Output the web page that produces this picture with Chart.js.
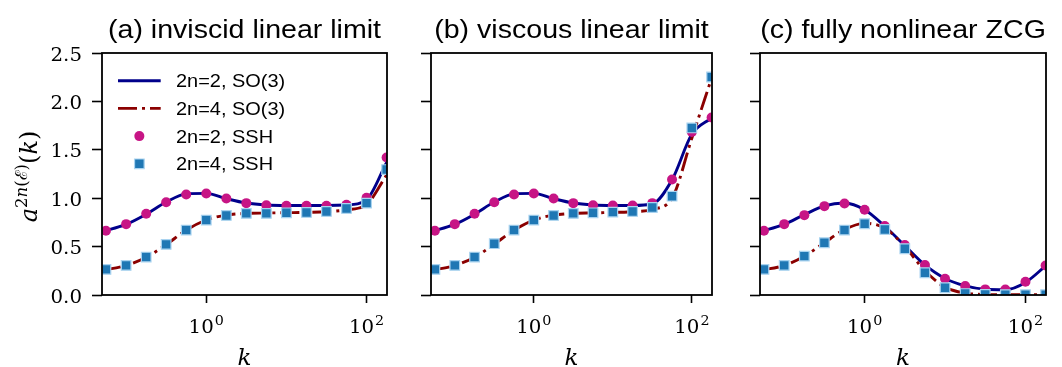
<!DOCTYPE html>
<html>
<head>
<meta charset="utf-8">
<script src="https://cdn.jsdelivr.net/npm/chart.js@4.4.1/dist/chart.umd.min.js"></script>
<style>
  html, body { margin: 0; padding: 0; background: #fff; }
  #wrap { position: relative; width: 1062px; height: 367px; overflow: hidden; }
  canvas { position: absolute; top: 0; }
</style>
</head>
<body>
<div id="wrap">
  <canvas id="panel-a" width="395" height="367" style="left:0px"></canvas>
  <canvas id="panel-b" width="325" height="367" style="left:395px"></canvas>
  <canvas id="panel-c" width="338" height="367" style="left:724px"></canvas>
</div>
<script>
// wavenumbers: SO(3) curves and SSH samples
const kLine = [0.05, 0.1, 0.178, 0.316, 0.562, 1, 1.78, 3.16, 5.62, 10, 17.8, 31.6, 56.2, 100, 178];
const kPoints = [0.056, 0.1, 0.178, 0.316, 0.562, 1, 1.78, 3.16, 5.62, 10, 17.8, 31.6, 56.2, 100, 178];

const seriesLabels = ['2n=2, SO(3)', '2n=4, SO(3)', '2n=2, SSH', '2n=4, SSH'];
const panelTitles = ['(a) inviscid linear limit', '(b) viscous linear limit', '(c) fully nonlinear ZCG'];
const yTicks = [0, 0.5, 1.0, 1.5, 2.0, 2.5];
const xTicks = [1, 100];

// (a) inviscid linear limit
const invLine2 = [0.655, 0.73, 0.835, 0.96, 1.045, 1.05, 0.995, 0.95, 0.93, 0.925, 0.925, 0.925, 0.93, 0.985, 1.37];
const invLine4 = [0.255, 0.305, 0.39, 0.52, 0.67, 0.775, 0.825, 0.843, 0.847, 0.85, 0.853, 0.86, 0.88, 0.935, 1.24];
const invSsh2 = [0.664, 0.732, 0.839, 0.959, 1.039, 1.049, 0.997, 0.949, 0.928, 0.922, 0.922, 0.922, 0.932, 1.004, 1.42];
const invSsh4 = [0.265, 0.306, 0.392, 0.523, 0.671, 0.774, 0.822, 0.843, 0.843, 0.849, 0.853, 0.863, 0.894, 0.949, 1.296];

// (b) viscous linear limit
const visLine2 = [0.655, 0.73, 0.835, 0.96, 1.045, 1.05, 0.995, 0.95, 0.93, 0.925, 0.925, 0.94, 1.19, 1.66, 1.83];
const visLine4 = [0.255, 0.305, 0.39, 0.525, 0.67, 0.775, 0.825, 0.843, 0.848, 0.853, 0.86, 0.885, 1.0, 1.62, 2.24];
const visSsh2 = [0.664, 0.732, 0.839, 0.959, 1.039, 1.049, 0.997, 0.949, 0.928, 0.925, 0.925, 0.949, 1.193, 1.685, 1.833];
const visSsh4 = [0.265, 0.306, 0.392, 0.530, 0.671, 0.774, 0.822, 0.843, 0.849, 0.856, 0.863, 0.904, 1.021, 1.726, 2.252];

// (c) fully nonlinear ZCG
const zcgLine2 = [0.655, 0.73, 0.83, 0.92, 0.95, 0.88, 0.71, 0.51, 0.31, 0.17, 0.095, 0.06, 0.055, 0.13, 0.3];
const zcgLine4 = [0.255, 0.305, 0.4, 0.54, 0.675, 0.74, 0.69, 0.5, 0.25, 0.08, 0.02, 0.005, 0.002, 0.002, 0.002];
const zcgSsh2 = [0.664, 0.732, 0.825, 0.918, 0.946, 0.880, 0.712, 0.516, 0.31, 0.168, 0.093, 0.058, 0.056, 0.136, 0.305];
const zcgSsh4 = [0.265, 0.306, 0.402, 0.540, 0.671, 0.736, 0.677, 0.478, 0.23, 0.075, 0.015, 0.006, 0.004, 0.003, 0.003];

const SANS = '"Liberation Sans", Arial, sans-serif';
const SERIF = '"DejaVu Serif", serif';

function pairs(xs, ys) {
    return xs.map((x, i) => ({ x: x, y: ys[i] }));
}

function buildDatasets(line2, line4, ssh2, ssh4) {
    return [
        {
            label: seriesLabels[0], data: pairs(kLine, line2), showLine: true,
            borderColor: '#00008b', borderWidth: 2.9, pointRadius: 0,
            cubicInterpolationMode: 'monotone', order: 3, clip: 0
        },
        {
            label: seriesLabels[1], data: pairs(kLine, line4), showLine: true,
            borderColor: '#8b0000', borderWidth: 2.9, borderDash: [19, 5, 3, 5], pointRadius: 0,
            cubicInterpolationMode: 'monotone', order: 2, clip: 0
        },
        {
            label: seriesLabels[2], data: pairs(kPoints, ssh2), showLine: false,
            pointStyle: 'circle', pointRadius: 5, pointBorderWidth: 0,
            backgroundColor: '#c71585', borderColor: '#c71585', order: 1, clip: 0
        },
        {
            label: seriesLabels[3], data: pairs(kPoints, ssh4), showLine: false,
            pointStyle: 'rect', pointRadius: 6.8, pointBorderWidth: 1.2,
            backgroundColor: '#1f77b4', borderColor: '#a9d3f0', order: 0, clip: 0
        }
    ];
}

// text stretched horizontally around its anchor
function drawText(ctx, text, x, y, font, sx, align) {
    ctx.save();
    ctx.translate(x, y);
    ctx.scale(sx, 1);
    ctx.font = font;
    ctx.textAlign = align;
    ctx.textBaseline = 'alphabetic';
    ctx.fillStyle = '#000';
    ctx.fillText(text, 0, 0);
    ctx.restore();
}

const framePlugin = {
    id: 'frame',
    afterDatasetsDraw(chart) {
        const { ctx, chartArea: a } = chart;
        ctx.save();
        ctx.strokeStyle = '#000';
        ctx.lineWidth = 1.8;
        ctx.strokeRect(a.left, a.top, a.right - a.left, a.bottom - a.top);
        ctx.restore();
    }
};

const panelTitlePlugin = {
    id: 'panelTitle',
    afterDraw(chart, args, opts) {
        const a = chart.chartArea;
        drawText(chart.ctx, opts.text, (a.left + a.right) / 2, 38, '25.5px ' + SANS, 1.12, 'center');
    }
};

// 10^n labels with a raised exponent
const powerTicksPlugin = {
    id: 'powerTicks',
    afterDraw(chart) {
        const ctx = chart.ctx;
        const scale = chart.scales.x;
        const sx = 1.1;
        ctx.save();
        scale.ticks.forEach((t) => {
            const px = scale.getPixelForValue(t.value);
            const exp = String(Math.round(Math.log10(t.value)));
            ctx.font = '18px ' + SERIF;
            const wb = ctx.measureText('10').width * sx;
            ctx.font = '13px ' + SERIF;
            const we = ctx.measureText(exp).width * sx;
            const x0 = px - (wb + we + 1) / 2;
            drawText(ctx, '10', x0, 332.5, '18px ' + SERIF, sx, 'left');
            drawText(ctx, exp, x0 + wb + 1, 325, '13px ' + SERIF, sx, 'left');
        });
        ctx.restore();
    }
};

// plain decimal labels on the value axis
const valueTicksPlugin = {
    id: 'valueTicks',
    afterDraw(chart) {
        const scale = chart.scales.y;
        scale.ticks.forEach((t) => {
            const py = scale.getPixelForValue(t.value);
            drawText(chart.ctx, t.value.toFixed(1), 82, py + 7.5, '18px ' + SERIF, 1.1, 'right');
        });
    }
};

const yTitlePlugin = {
    id: 'yTitle',
    afterDraw(chart) {
        const ctx = chart.ctx;
        const a = chart.chartArea;
        const big = 24, small = 16.5;
        const parts = [
            { t: 'a', it: true },
            { t: '2', sup: true }, { t: 'n', it: true, sup: true }, { t: '(', sup: true },
            { t: 'ℰ', sup: true }, { t: ')', sup: true },
            { t: '(' }, { t: 'k', it: true }, { t: ')' }
        ];
        const fontOf = (p) => (p.it ? 'italic ' : '') + (p.sup ? small : big) + 'px ' + SERIF;
        ctx.save();
        let total = 0;
        parts.forEach((p) => {
            ctx.font = fontOf(p);
            p.w = ctx.measureText(p.t).width;
            total += p.w;
        });
        ctx.translate(37, (a.top + a.bottom) / 2 + 2.5);
        ctx.rotate(-Math.PI / 2);
        ctx.fillStyle = '#000';
        ctx.textAlign = 'left';
        ctx.textBaseline = 'alphabetic';
        let x = -total / 2;
        parts.forEach((p) => {
            ctx.font = fontOf(p);
            ctx.fillText(p.t, x, p.sup ? -10.5 : 0);
            x += p.w;
        });
        ctx.restore();
    }
};

const legendPlugin = {
    id: 'seriesLegend',
    afterDraw(chart) {
        const ctx = chart.ctx;
        const sampleLeft = 118, sampleRight = 160.7, textX = 176;
        const rowTop = 80.7, rowStep = 27.7;
        chart.data.datasets.forEach((ds, i) => {
            const y = rowTop + i * rowStep;
            ctx.save();
            if (ds.showLine) {
                ctx.strokeStyle = ds.borderColor;
                ctx.lineWidth = ds.borderWidth;
                ctx.setLineDash(ds.borderDash || []);
                ctx.beginPath();
                ctx.moveTo(sampleLeft, y);
                ctx.lineTo(sampleRight, y);
                ctx.stroke();
            } else {
                ctx.fillStyle = ds.backgroundColor;
                ctx.strokeStyle = ds.borderColor;
                ctx.lineWidth = ds.pointBorderWidth;
                Chart.helpers.drawPoint(ctx, {
                    pointStyle: ds.pointStyle, radius: ds.pointRadius,
                    rotation: 0, borderWidth: ds.pointBorderWidth
                }, (sampleLeft + sampleRight) / 2, y);
            }
            ctx.restore();
            drawText(ctx, ds.label, textX, y + 6.4, '17.5px ' + SANS, 1.14, 'left');
        });
    }
};

function makePanel(canvasId, title, datasets, yAxisWidth, rightPad, extraPlugins) {
    const ctxt = document.getElementById(canvasId).getContext('2d');
    return new Chart(ctxt, {
        type: 'scatter',
        data: { datasets: datasets },
        options: {
            responsive: false,
            animation: false,
            devicePixelRatio: 1,
            layout: { padding: { top: 53, right: rightPad, bottom: 0, left: 0 } },
            plugins: {
                legend: { display: false },
                tooltip: { enabled: false },
                panelTitle: { text: title }
            },
            scales: {
                x: {
                    type: 'logarithmic',
                    min: 0.05,
                    max: 180,
                    afterBuildTicks: (s) => { s.ticks = xTicks.map((v) => ({ value: v })); },
                    afterFit: (s) => { s.height = 72; },
                    ticks: { display: false },
                    grid: { drawOnChartArea: false, drawTicks: true, tickLength: 8, tickWidth: 1.6, tickColor: '#000' },
                    border: { display: false },
                    title: {
                        display: true, text: 'k', color: '#000',
                        font: { family: 'DejaVu Serif', style: 'italic', size: 23, lineHeight: 1 },
                        padding: { top: 0, bottom: -4 }
                    }
                },
                y: {
                    min: 0,
                    max: 2.5,
                    afterBuildTicks: (s) => { s.ticks = yTicks.map((v) => ({ value: v })); },
                    afterFit: (s) => { s.width = yAxisWidth; },
                    ticks: { display: false },
                    grid: { drawOnChartArea: false, drawTicks: true, tickLength: 10, tickWidth: 1.6, tickColor: '#000' },
                    border: { display: false }
                }
            }
        },
        plugins: [framePlugin, panelTitlePlugin, powerTicksPlugin].concat(extraPlugins)
    });
}

makePanel('panel-a', panelTitles[0], buildDatasets(invLine2, invLine4, invSsh2, invSsh4), 102, 7, [valueTicksPlugin, yTitlePlugin, legendPlugin]);
makePanel('panel-b', panelTitles[1], buildDatasets(visLine2, visLine4, visSsh2, visSsh4), 36, 4, []);
makePanel('panel-c', panelTitles[2], buildDatasets(zcgLine2, zcgLine4, zcgSsh2, zcgSsh4), 36, 16, []);
</script>
</body>
</html>
